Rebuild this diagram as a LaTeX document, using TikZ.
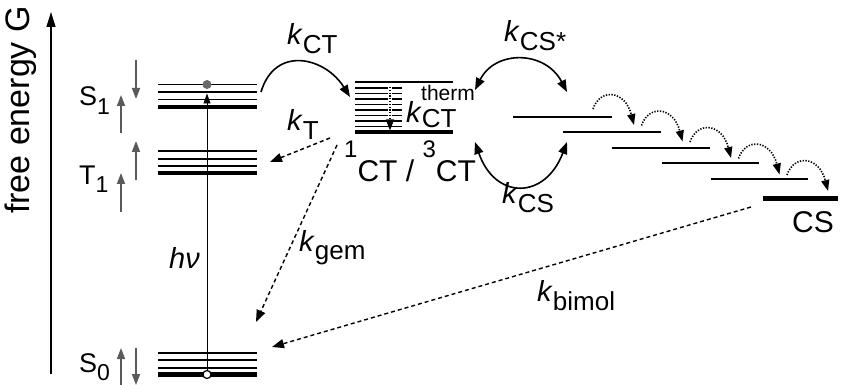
\documentclass[tikz,border=0pt]{standalone}
\usepackage{fontspec}
\setmainfont{Liberation Sans}
\usetikzlibrary{arrows.meta}
\definecolor{spingray}{RGB}{90,90,90}
\definecolor{dotgray}{RGB}{105,105,105}
\newcommand{\lsub}[2][21]{\raisebox{-9pt}{\fontsize{#1}{#1}\selectfont #2}}
\newcommand{\lsupr}[2][24]{\raisebox{24pt}{\fontsize{#1}{#1}\selectfont #2}}
\begin{document}
\begin{tikzpicture}[x=1pt,y=-1pt,
  lvl/.style={line width=1.8pt},
  lvlthick/.style={line width=4.2pt},
  lbl/.style={font=\fontsize{27}{27}\selectfont, inner sep=0pt, anchor=base west},
  klbl/.style={font=\fontsize{29}{29}\selectfont, inner sep=0pt, anchor=base west},
  ctlbl/.style={font=\fontsize{30}{30}\selectfont, inner sep=0pt, anchor=base west},
  spin/.style={draw=spingray, line width=1.6pt, -{Triangle[length=11pt,width=8pt]}},
  rate/.style={line width=1.6pt, -{Triangle[length=12pt,width=9pt]}},
  rateboth/.style={line width=1.6pt, {Triangle[length=12pt,width=9pt]}-{Triangle[length=12pt,width=9pt]}},
  dashrate/.style={line width=1.4pt, dash pattern=on 4pt off 3pt, -{Triangle[length=12pt,width=9pt]}},
  hop/.style={line width=1.6pt, dash pattern=on 1.3pt off 1.5pt, -{Triangle[length=11pt,width=8pt]}},
]
\useasboundingbox (0,0) rectangle (849,385);

% energy axis
\coordinate (axbot) at (51,374);
\coordinate (axtop) at (51,12);
\draw[line width=1.4pt, -{Triangle[length=15pt,width=9pt]}] (axbot) -- (axtop);
\node[rotate=90, inner sep=0pt, font=\fontsize{34}{34}\selectfont] (axlbl) at (21,110) {free energy G};

% S1 levels
\foreach \y in {84.5,92,99.5} \draw[lvl] (158,\y) -- (257,\y);
\draw[lvlthick] (158,106.7) -- (257,106.7);
% T1 levels
\foreach \y in {151,158.7,166} \draw[lvl] (158,\y) -- (257,\y);
\draw[lvlthick] (158,173.3) -- (257,173.3);
% S0 levels
\foreach \y in {352.7,360.3,367.7} \draw[lvl] (158,\y) -- (257,\y);
\draw[lvlthick] (158,374.5) -- (257,374.5);

% state labels
\node[lbl] (S1lbl) at (79,106) {S\lsub[23]{1}};
\node[lbl] (T1lbl) at (79,184) {T\lsub[23]{1}};
\node[lbl] (S0lbl) at (79,372.5) {S\raisebox{-7.5pt}{\fontsize{23}{23}\selectfont 0}};

% spin arrows
\draw[spin] (121,133) -- (121,95);
\draw[spin] (136,60) -- (136,99);
\draw[spin] (121,212) -- (121,173);
\draw[spin] (136,180) -- (136,141);
\draw[spin] (121,385) -- (121,348);
\draw[spin] (136,348) -- (136,385);

% excitation h nu
\coordinate (exbot) at (207,374);
\coordinate (extop) at (207,93.5);
\draw[line width=0.9pt, -{Triangle[length=10pt,width=7pt]}] (exbot) -- (extop);
\node[circle, fill=dotgray, inner sep=0pt, minimum size=9pt] (exdot) at (207,84.5) {};
\node[circle, draw=black, fill=white, line width=1.2pt, inner sep=0pt, minimum size=8pt] (grdot) at (207,374.5) {};
\node[klbl] (hnu) at (169,268) {\textit{hν}};

% CT levels
\draw[lvl] (355,81.7) -- (453,81.7);
\foreach \y in {88,93.5,99,104.5,110,115.5,121,126.5} \draw[lvl, line width=1.5pt] (355,\y) -- (402,\y);
\draw[lvlthick] (355,131.7) -- (453,131.7);
\coordinate (thtop) at (390,87);
\coordinate (thbot) at (390,130.5);
\draw[white, line width=4pt] (390,86) -- (390,121);
\draw[hop, line width=1.4pt] (thtop) -- (thbot);
\node[klbl] (kth) at (406,123) {\textit{k}\raisebox{-5pt}{\fontsize{26}{26}\selectfont CT}};
\node[inner sep=0pt, anchor=base west, font=\fontsize{21}{21}\selectfont] (therm) at (421,101) {therm};
\node[ctlbl] (ctlbl) at (344,182) {\lsupr{1}CT / \lsupr{3}CT};

% CS steps
\draw[lvl] (513,116.7) -- (612,116.7);
\draw[lvl] (563,132.3) -- (661,132.3);
\draw[lvl] (612,147.7) -- (710,147.7);
\draw[lvl] (662,163.3) -- (759,163.3);
\draw[lvl] (711,179.3) -- (808,179.3);
\draw[lvlthick] (763,198.5) -- (838,198.5);
\node[ctlbl] (cslbl) at (792,233) {CS};

% hops
\foreach \i in {0,1,2,3,4} {
  \coordinate (hs\i) at ({593+48.5*\i},{109+16.5*\i});
  \coordinate (he\i) at ({634+48.5*\i},{125+16.5*\i});
  \draw[hop] (hs\i) .. controls ++(7,-21) and ++(-9,-35) .. (he\i);
}

% kCT
\coordinate (S1R) at (261,92);
\coordinate (CTin) at (350,97);
\draw[rate] (S1R) .. controls (275,45) and (325,57) .. (CTin);
\node[klbl] (kCT) at (287,45) {\textit{k}\lsub[26]{CT}};

% kCS*
\coordinate (csa) at (475,90);
\coordinate (csb) at (567,92);
\draw[rateboth] (csa) .. controls (495,50) and (545,50) .. (csb);
\node[klbl] (kCSs) at (504,42) {\textit{k}\lsub[26]{CS*}};

% kCS
\coordinate (csc) at (475,142);
\coordinate (csd) at (567,142);
\draw[rateboth] (csc) .. controls (495,200) and (545,200) .. (csd);
\node[klbl] (kCS) at (502,204) {\textit{k}\lsub[26]{CS}};

% kT
\coordinate (kTs) at (330,138);
\coordinate (kTe) at (270,162);
\draw[dashrate] (kTs) -- (kTe);
\node[klbl] (kT) at (287,131) {\textit{k}\lsub[26]{T}};

% kgem
\coordinate (kgs) at (337,145);
\coordinate (kge) at (256,322);
\draw[dashrate] (kgs) -- (kge);
\node[klbl] (kgem) at (299,251) {\textit{k}\lsub[26]{gem}};

% kbimol
\coordinate (kbs) at (751,207);
\coordinate (kbe) at (272,347);
\draw[dashrate] (kbs) -- (kbe);
\node[klbl] (kbim) at (537,301) {\textit{k}\lsub[26]{bimol}};
\end{tikzpicture}
\end{document}
